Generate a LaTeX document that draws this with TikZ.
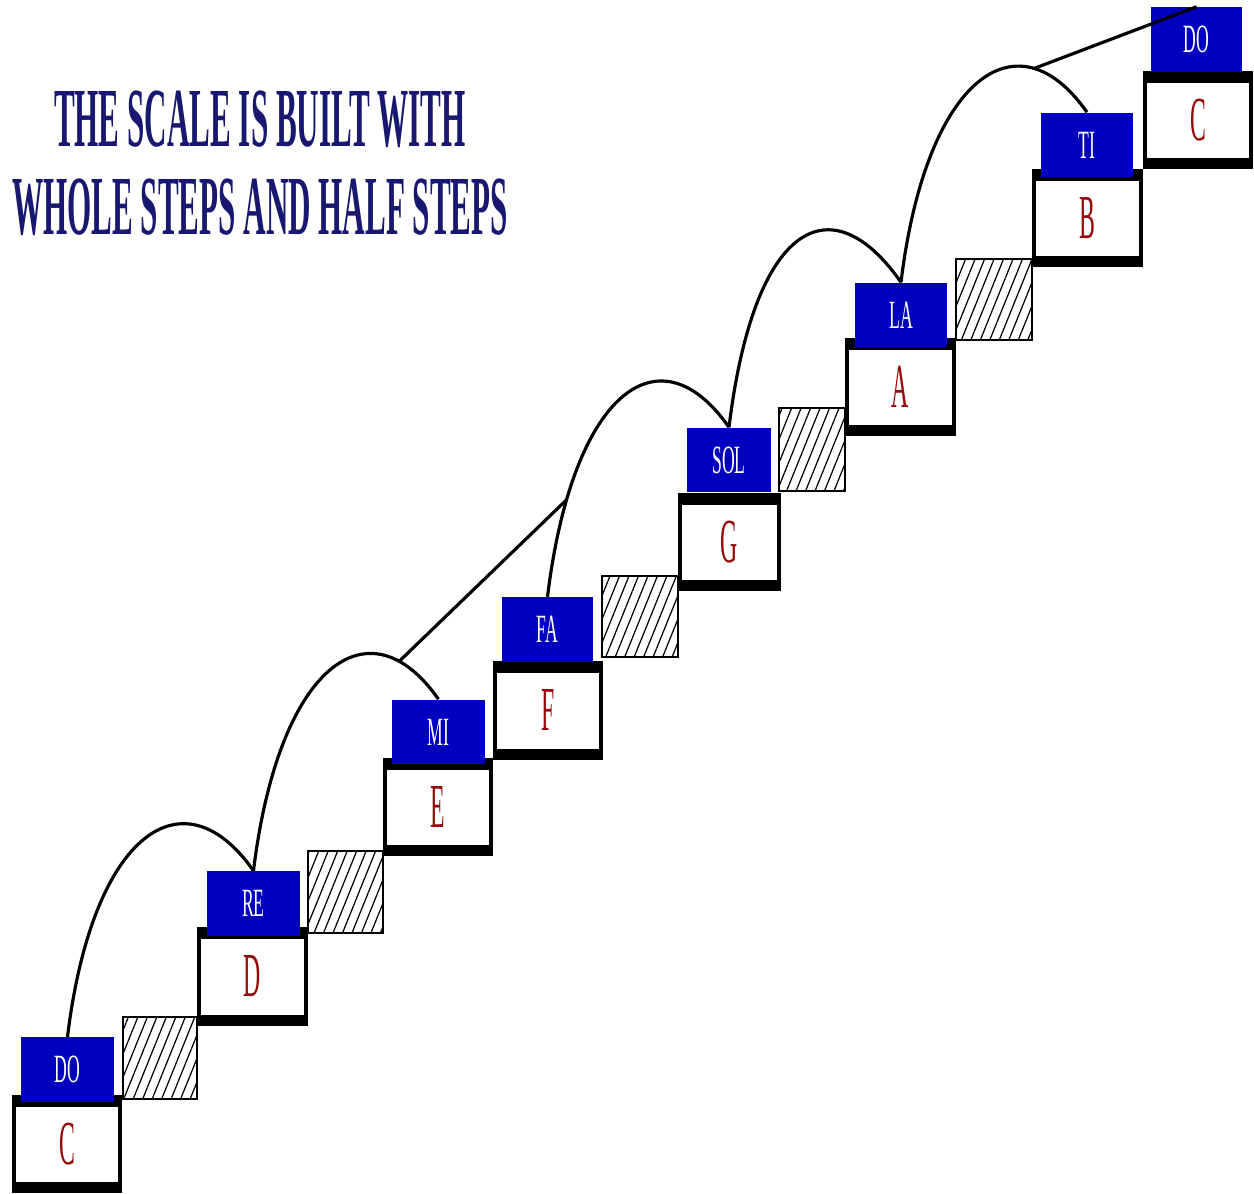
\documentclass[tikz,border=0pt]{standalone}
\usepackage{fontspec}
\usepackage{xcolor}
\usepackage{tikz}
\usetikzlibrary{patterns.meta}
\newfontfamily\titlefont[FakeStretch=0.37]{Liberation Serif}
\newfontfamily\syllfont[FakeStretch=0.44]{Liberation Serif}
\newfontfamily\notefont[FakeStretch=0.38]{Liberation Serif}
\definecolor{titleblue}{RGB}{24,24,112}
\definecolor{syllblue}{RGB}{0,0,190}
\definecolor{notered}{RGB}{150,10,10}

\begin{document}
\begin{tikzpicture}[x=0.01cm,y=-0.01cm,
    stepbox/.style={draw=black,line width=0.04cm,fill=white,inner sep=0pt,
      minimum height=0.94cm,text=notered,font=\notefont\fontsize{17.8}{18}\selectfont,
      path picture={
        \fill[black] (path picture bounding box.north west) rectangle ([yshift=-0.1cm]path picture bounding box.north east);
        \fill[black] (path picture bounding box.south west) rectangle ([yshift=0.09cm]path picture bounding box.south east);}},
    syllable/.style={fill=syllblue,inner sep=0pt,minimum height=0.64cm,
      text=white,font=\syllfont\fontsize{11.4}{12}\selectfont},
    halfbox/.style={draw=black,line width=0.4pt,
      pattern={Lines[angle=68,distance=2.5pt,line width=0.35pt]}},
    archline/.style={line width=0.9pt},
    titletext/.style={text=titleblue,inner sep=0pt,anchor=base,
      font=\titlefont\bfseries\fontsize{23.9}{26}\selectfont}]
  \useasboundingbox (0,0) rectangle (1254,1194);
  \node[titletext] (head1) at (260,147) {THE SCALE IS BUILT WITH};
  \node[titletext] (head2) at (260,235) {WHOLE STEPS AND HALF STEPS};
  % shaded blocks under the whole steps
  \foreach \xa/\ya/\xb/\yb in {123/1017/197/1099, 308/851/383/933, 602/576/678/657,
      779/408/845/491, 956/259/1032/340}
    \draw[halfbox] (\xa,\ya) rectangle (\xb,\yb);
  % the stairs
  \foreach \n/\x/\y/\w/\l in {c1/67/1144/1.06/C, d/252.5/976.5/1.07/D, e/438/807/1.06/E,
      f/548/710.5/1.06/F, g/729.5/542/0.99/G, a/900.5/387/1.07/A,
      b/1087.5/218/1.07/B, c2/1198/120/1.06/C}
    \node[stepbox,minimum width=\w cm] (\n) at (\x,\y) {\l};
  \foreach \n/\x/\y/\w/\l in {do1/67.5/1069.5/0.93/DO, re/253.5/903.5/0.93/RE,
      mi/438.5/732/0.93/MI, fa/547.5/629.5/0.91/FA, sol/729/460/0.84/SOL,
      la/901/315/0.92/LA, ti/1087/145/0.92/TI, do2/1196.5/39.5/0.91/DO}
    \node[syllable,minimum width=\w cm] (\n) at (\x,\y) {\l};
  % whole steps
  \draw[archline] (do1.north) .. controls +(25,-205) and +(-70,-100) .. (re.north);
  \draw[archline] (re.north) .. controls +(25,-205) and +(-70,-100) .. (mi.north)
    coordinate[pos=0.82] (jmi);
  \draw[archline] (fa.north) .. controls +(25,-205) and +(-70,-100) .. (sol.north)
    coordinate[pos=0.18] (jfa);
  \draw[archline] (sol.north) .. controls +(25,-205) and +(-70,-100) .. (la.north);
  \draw[archline] (la.north) .. controls +(25,-205) and +(-70,-100) .. (ti.north)
    coordinate[pos=0.76] (jla);
  % half steps
  \draw[archline] (jmi) -- (jfa);
  \draw[archline] (jla) -- (do2.north);
\end{tikzpicture}
\end{document}
